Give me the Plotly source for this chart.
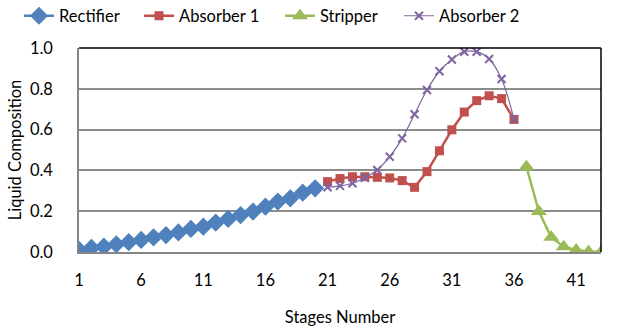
import plotly.graph_objects as go

# Liquid composition profiles along the column sections
rect_stages = list(range(1, 21))
rect_x = [0.01, 0.02, 0.026, 0.038, 0.048, 0.059, 0.072, 0.083, 0.096, 0.113,
          0.124, 0.144, 0.162, 0.181, 0.198, 0.222, 0.247, 0.263, 0.291, 0.312]

abs1_stages = list(range(21, 37))
abs1_x = [0.345, 0.36, 0.369, 0.369, 0.366, 0.363, 0.35, 0.317, 0.394, 0.496,
          0.599, 0.686, 0.742, 0.766, 0.752, 0.65]

strip_stages = list(range(37, 44))
strip_x = [0.418, 0.198, 0.072, 0.026, 0.01, 0.002, 0.0]

abs2_stages = list(range(21, 37))
abs2_x = [0.317, 0.324, 0.337, 0.364, 0.402, 0.467, 0.557, 0.675, 0.794, 0.886,
          0.944, 0.982, 0.982, 0.946, 0.848, 0.65]

x_ticks = [1, 6, 11, 16, 21, 26, 31, 36, 41]
y_ticks = [0.0, 0.2, 0.4, 0.6, 0.8, 1.0]

FONT = "Lato"
FS = 16.5
W, H = 627, 327

fig = go.Figure()
fig.add_trace(go.Scatter(x=rect_stages, y=rect_x, name="Rectifier", mode="lines+markers",
                         legend="legend",
                         line=dict(color="#4F81BD", width=2.5),
                         marker=dict(symbol="diamond", size=14, color="#4F81BD")))
fig.add_trace(go.Scatter(x=abs1_stages, y=abs1_x, name="Absorber 1", mode="lines+markers",
                         legend="legend2",
                         line=dict(color="#C0504D", width=2.5),
                         marker=dict(symbol="square", size=9, color="#C0504D")))
fig.add_trace(go.Scatter(x=strip_stages, y=strip_x, name="Stripper", mode="lines+markers",
                         legend="legend3",
                         line=dict(color="#9BBB59", width=2.5),
                         marker=dict(symbol="triangle-up", size=14, color="#9BBB59")))
fig.add_trace(go.Scatter(x=abs2_stages, y=abs2_x, name="Absorber 2", mode="lines+markers",
                         legend="legend4",
                         line=dict(color="#8064A2", width=1.2, shape="spline"),
                         marker=dict(symbol="x-thin", size=8, color="#8064A2",
                                     line=dict(color="#8064A2", width=2))))

# One legend box per series, laid out in a row across the top of the figure
legend_px = [19, 139, 280, 399]
legend_common = dict(orientation="h", xref="container", yref="container",
                     yanchor="middle", xanchor="left", y=1 - 16 / H,
                     font=dict(family=FONT, size=FS), bgcolor="rgba(0,0,0,0)")
legends = {}
for i, px in enumerate(legend_px):
    key = "legend" if i == 0 else f"legend{i + 1}"
    legends[key] = dict(legend_common, x=px / W)

fig.update_layout(
    width=W, height=H,
    margin=dict(l=79, r=26, t=48, b=75),
    paper_bgcolor="white", plot_bgcolor="white",
    font=dict(family=FONT, size=FS, color="black"),
    showlegend=True,
    xaxis=dict(range=[1, 43], tickvals=x_ticks, showgrid=False, zeroline=False,
               showline=True, linecolor="#868686", linewidth=1.5,
               ticks="outside", ticklen=12, tickcolor="rgba(0,0,0,0)",
               title=dict(text="Stages Number", font=dict(family=FONT, size=FS), standoff=24),
               tickfont=dict(family=FONT, size=FS), automargin=False),
    yaxis=dict(range=[0, 1.0], tickvals=y_ticks, tickformat=".1f", showgrid=True,
               gridcolor="#8C8C8C", gridwidth=1.5, zeroline=False,
               showline=True, linecolor="#868686", linewidth=1.5,
               ticks="outside", ticklen=21, tickcolor="rgba(0,0,0,0)",
               title=dict(text="Liquid Composition", font=dict(family=FONT, size=FS), standoff=4),
               tickfont=dict(family=FONT, size=FS), automargin=False),
    **legends,
)

# Plot-area frame: dark top and right edges
fig.add_shape(type="line", xref="paper", yref="paper", x0=0, x1=1, y0=1, y1=1,
              line=dict(color="black", width=1.5))
fig.add_shape(type="line", xref="paper", yref="paper", x0=1, x1=1, y0=0, y1=1,
              line=dict(color="black", width=1.5))

fig.write_html("out.html")
